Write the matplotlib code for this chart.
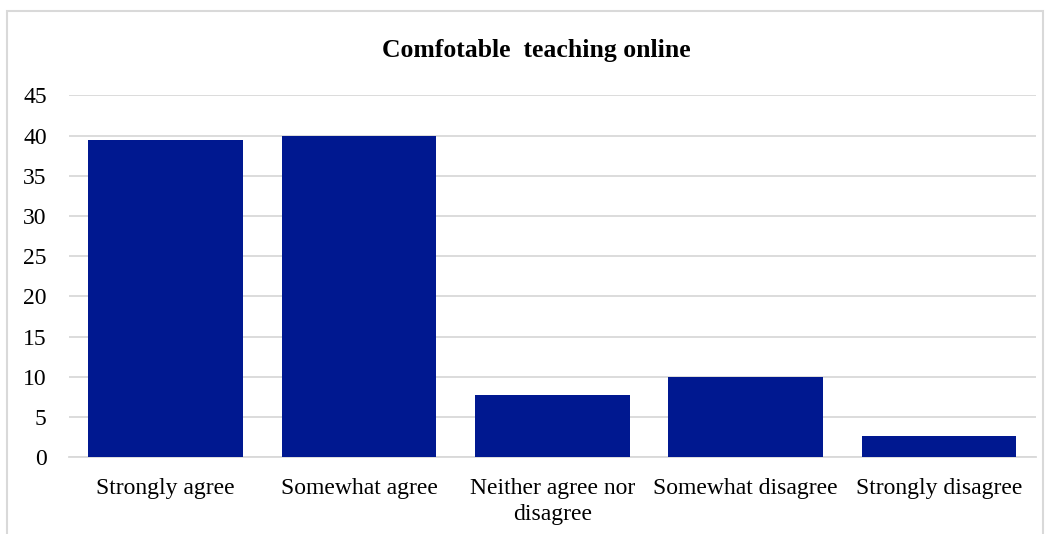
import matplotlib
matplotlib.use('agg')
import matplotlib.pyplot as plt
from matplotlib.patches import Rectangle

plt.rcParams['font.family'] = ['Liberation Serif', 'DejaVu Serif']

categories = ['Strongly agree', 'Somewhat agree', 'Neither agree nor\ndisagree',
              'Somewhat disagree', 'Strongly disagree']
values = [39.5, 40.0, 7.8, 10.0, 2.7]
yticks = [0, 5, 10, 15, 20, 25, 30, 35, 40, 45]
title = 'Comfotable  teaching online'

fig = plt.figure(figsize=(10.52, 5.34), dpi=100)
ax = fig.add_axes([0.0656, 0.1436, 0.9188, 0.6779])

# outer chart border (bottom runs off the image)
fig.patches.append(Rectangle((7 / 1052, -0.05), 1036 / 1052, 1.05 - 11 / 534,
                             transform=fig.transFigure, fill=False,
                             edgecolor='#d9d9d9', linewidth=1.5))

x = range(len(categories))
ax.bar(x, values, width=0.8, color='#001890', zorder=3)

ax.set_xlim(-0.5, len(categories) - 0.5)
ax.set_ylim(0, 45)
ax.set_yticks(yticks)
ax.set_xticks(list(x))
ax.set_xticklabels(categories, fontsize=17, va='top', linespacing=1.3)
ax.tick_params(axis='y', labelsize=17, length=0, pad=16)
ax.tick_params(axis='x', length=0, pad=15)
ax.grid(axis='y', color='#d9d9d9', linewidth=1.3, zorder=0)
for s in ['top', 'right', 'left']:
    ax.spines[s].set_visible(False)
ax.spines['bottom'].set_color('#d9d9d9')
ax.spines['bottom'].set_linewidth(1.3)

fig.text(0.51, 0.906, title, ha='center', va='center', fontsize=18.5, fontweight='bold')

fig.savefig('out.png', dpi=100)
